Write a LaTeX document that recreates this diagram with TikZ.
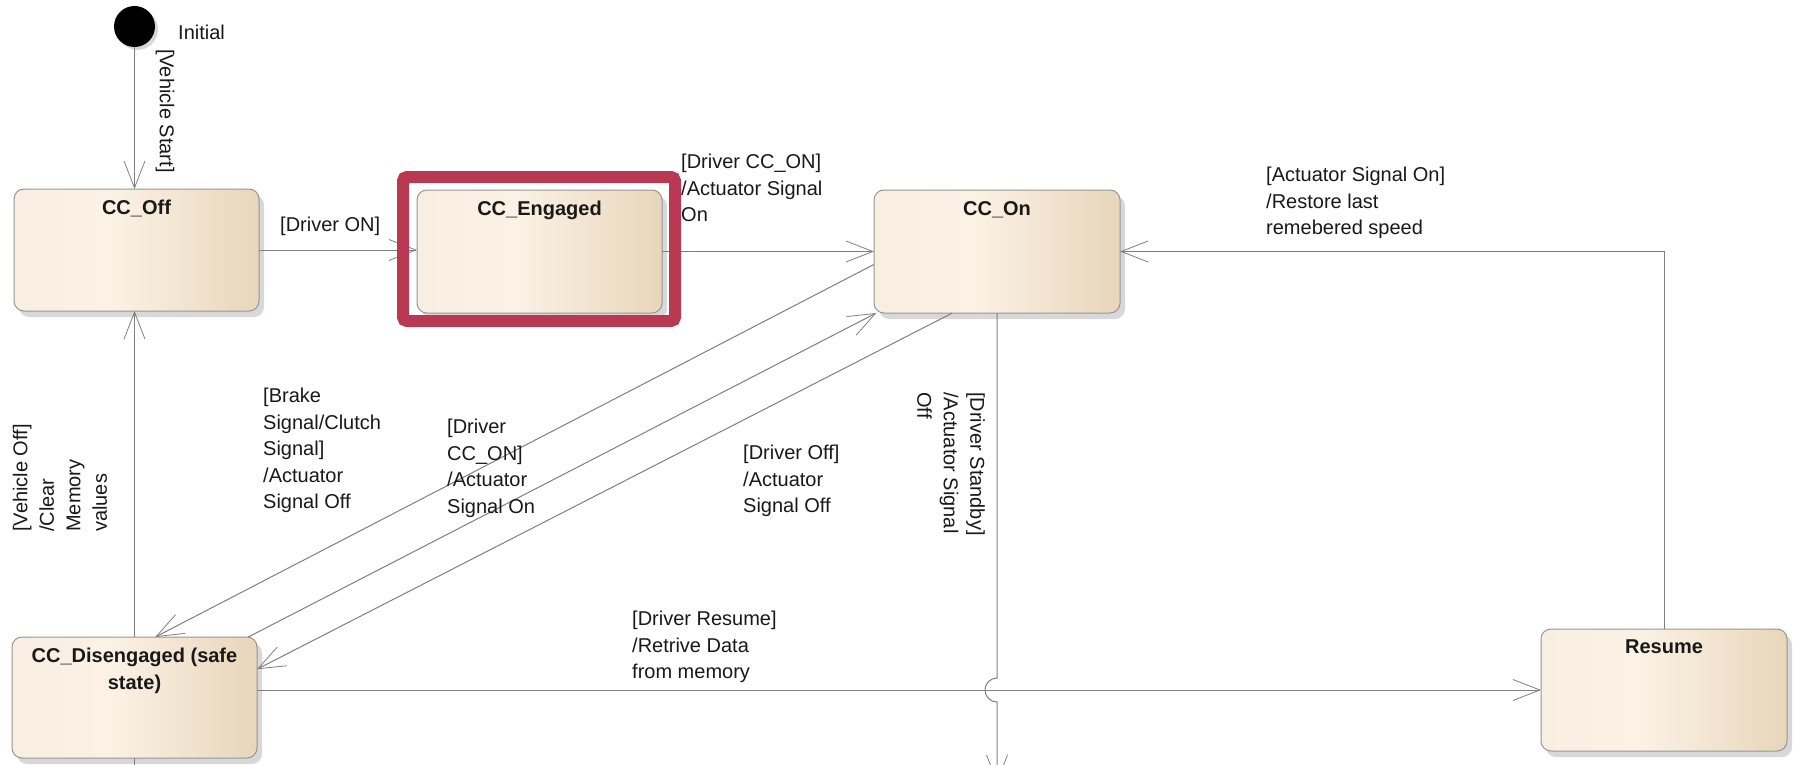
\documentclass[tikz,border=0pt]{standalone}
\usepackage{fontspec}
\setmainfont{Liberation Sans}
\usetikzlibrary{arrows.meta,shadows,calc}
\definecolor{edge}{RGB}{128,128,128}
\definecolor{boxline}{RGB}{150,150,150}
\definecolor{hlred}{RGB}{185,57,82}
\definecolor{shA}{RGB}{248,239,226}
\definecolor{shB}{RGB}{251,242,229}
\definecolor{shC}{RGB}{232,214,187}
\definecolor{txt}{RGB}{25,25,25}
\pgfdeclarehorizontalshading{boxshade}{100bp}{color(0bp)=(shA); color(25bp)=(shA); color(45bp)=(shB); color(75bp)=(shC); color(100bp)=(shC)}
\begin{document}
\begin{tikzpicture}[x=1pt,y=-1pt,
  font=\fontsize{20}{26.5}\selectfont,
  stbox/.style={draw=boxline, line width=1pt, rounded corners=10pt, shading=boxshade, inner sep=0pt, outer sep=0pt, minimum width=245pt, minimum height=122pt, drop shadow={shadow xshift=5pt, shadow yshift=-6pt, fill=black!30, draw=none}},
  ttl/.style={anchor=north, yshift=-11pt, font=\fontsize{20}{26.5}\selectfont\bfseries, inner sep=0pt, text=txt, align=center},
  lbl/.style={inner sep=0pt, text=txt},
  conn/.style={draw=edge, line width=1pt, -{Straight Barb[length=27pt,width=21pt,line width=0.8pt]}},
  plain/.style={draw=edge, line width=1pt},
]
\fill[white] (0,0) rectangle (1796,765);
\useasboundingbox (0,0) rectangle (1796,765);
\clip (0,0) rectangle (1796,765);

% states
\node[circle, fill=black, minimum size=41pt, inner sep=0pt, outer sep=0pt, drop shadow={shadow xshift=3pt, shadow yshift=-3pt, fill=black!30}] (init) at (134.5,26.5) {};
\node[lbl, anchor=west] (initL) at (178,32) {Initial};

\node[stbox, label={[ttl]north:CC\_Off}] (off) at (136.5,250) {};
\node[stbox, minimum height=123pt, label={[ttl]north:CC\_Engaged}] (eng) at (539.5,251.5) {};
\node[stbox, minimum width=246pt, minimum height=123pt, label={[ttl]north:CC\_On}] (on) at (997,251.5) {};
\node[stbox, minimum height=121pt, label={[ttl]north:CC\_Disengaged (safe\\state)}] (dis) at (134.5,697.5) {};
\node[stbox, minimum width=246pt, label={[ttl]north:Resume}] (res) at (1664,690) {};

% connectors
\draw[conn] (init) -- (init |- off.north);
\draw[conn] (off.east) -- (off.east -| eng.west);
\draw[conn] (eng.east) -- (on.west);
\draw[conn] (res.north) |- (on.east);
\draw[conn] (dis.north) -- (dis.north |- off.south);
\draw[conn] (on.186) -- (dis.71);
\draw[conn] (dis.28) -- (on.207);
\draw[conn] (on.234) -- (dis.13);
\draw[conn] (dis.east |- res.west) -- (res.west);
\coordinate (sbEnd) at ($(on.south)+(0,470)$);
\draw[conn] (on.south) -- ($(on.south |- res.west)+(0,-12)$) arc[start angle=270, end angle=90, radius=12] -- (sbEnd);
\coordinate (disEnd) at ($(dis.south)+(0,40)$);
\draw[plain] (dis.south) -- (disEnd);

% labels
\node[lbl, anchor=west, rotate=-90] (lVS) at (165,49) {[Vehicle Start]};
\node[lbl, anchor=west] (lDon) at (280,226) {[Driver ON]};
\node[lbl, anchor=north west, align=left] (lCCon) at (681,154) {[Driver CC\_ON]\\/Actuator Signal\\On};
\node[lbl, anchor=north west, align=left] (lAS) at (1266,167) {[Actuator Signal On]\\/Restore last\\remebered speed};
\node[lbl, anchor=north west, align=left] (lBr) at (263,388) {[Brake\\Signal/Clutch\\Signal]\\/Actuator\\Signal Off};
\node[lbl, anchor=north west, align=left] (lDcc) at (447,419) {[Driver\\CC\_ON]\\/Actuator\\Signal On};
\node[lbl, anchor=north west, align=left] (lDoff) at (743,445) {[Driver Off]\\/Actuator\\Signal Off};
\node[lbl, anchor=north west, align=left] (lRes) at (632,611) {[Driver Resume]\\/Retrive Data\\from memory};
\node[lbl, rotate=-90, align=left] (lSB) at (951,464) {[Driver Standby]\\/Actuator Signal\\Off};
\node[lbl, rotate=90, align=left] (lVO) at (60,478) {[Vehicle Off]\\/Clear\\Memory\\values};

% highlight
\node[draw=hlred, line width=12pt, rounded corners=4pt, minimum width=272pt, minimum height=144pt, inner sep=0pt] (hl) at (539,249) {};
\end{tikzpicture}
\end{document}
